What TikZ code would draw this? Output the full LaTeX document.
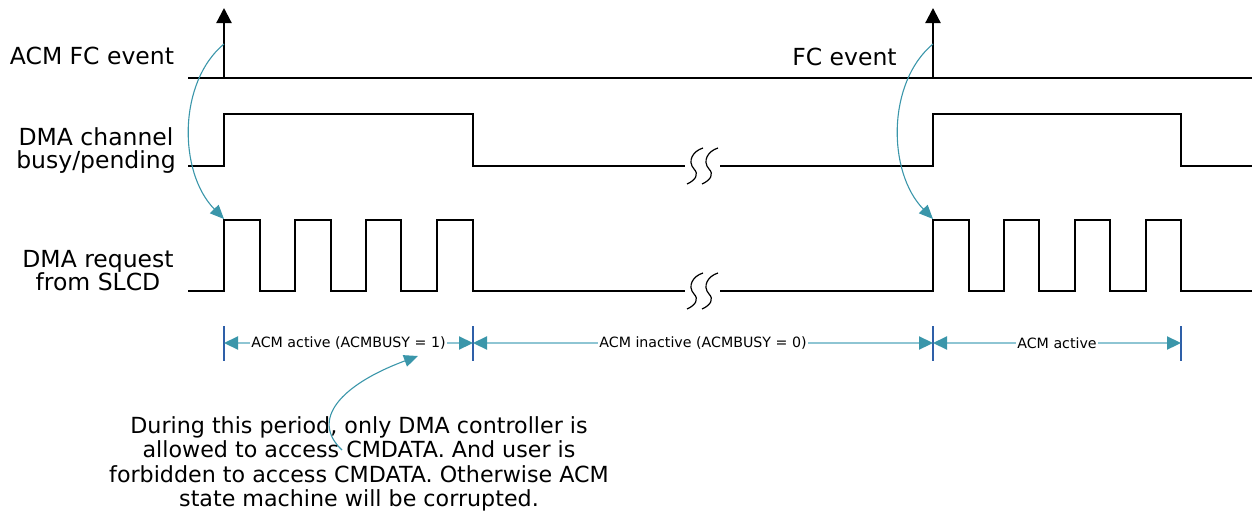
\documentclass[tikz,border=0pt]{standalone}
\usepackage{fontspec}
\setmainfont{DejaVu Sans}
\usetikzlibrary{arrows.meta}
\definecolor{tealdk}{HTML}{3A96AA}
\definecolor{teallt}{HTML}{8EC5D3}
\definecolor{tickblue}{HTML}{2E5FA8}
\begin{document}
\begin{tikzpicture}[x=1pt,y=-1pt,
  sig/.style={line width=2.2pt, black, line join=miter},
  evarrow/.style={line width=2.2pt, black, -{Triangle[length=15pt,width=15pt]}},
  lbl/.style={font=\fontsize{23.5}{23.5}\selectfont, align=center, inner sep=0pt},
  note/.style={font=\fontsize{22.2}{24.5}\selectfont, align=center, inner sep=0pt},
  ticks/.style={line width=2pt, tickblue},
  dim/.style={line width=2.2pt, teallt,
     {Triangle[length=14pt,width=13pt,color=tealdk]}-{Triangle[length=14pt,width=13pt,color=tealdk]}},
  dimlbl/.style={font=\fontsize{14.2}{15}\selectfont, fill=white, inner sep=1pt, text=black},
  curve/.style={line width=1.1pt, tealdk, -{Triangle[length=14pt,width=12pt]}},
  squig/.style={line width=1.2pt, black}
]
\useasboundingbox (0,0) rectangle (1252,514);

% labels
\node[lbl, anchor=base] (lacm) at (92,64) {ACM FC event};
\node[lbl, anchor=north] (lbusy) at (96,127) {DMA channel\\busy/pending};
\node[lbl, anchor=north] (lreq) at (98,250) {DMA request\\from SLCD};
\node[lbl, anchor=base] (lfc) at (844.5,65) {FC event};

% row 1: FC event
\draw[sig] (188,78) -- (1252,78);
\coordinate (ev1) at (224,78);
\coordinate (ev2) at (933,78);
\coordinate (ev1t) at (224,8);
\coordinate (ev2t) at (933,8);
\draw[evarrow] (ev1) -- (ev1t);
\draw[evarrow] (ev2) -- (ev2t);

% row 2: DMA channel busy
\draw[sig] (188,166) -- (224,166) -- (224,114) -- (473,114) -- (473,166) -- (685,166);
\draw[sig] (720,166) -- (933,166) -- (933,114) -- (1181,114) -- (1181,166) -- (1252,166);

% row 3: DMA request
\draw[sig] (188,291) -- (224,291) -- (224,220) -- (260,220) -- (260,291)
  -- (295,291) -- (295,220) -- (331,220) -- (331,291)
  -- (366,291) -- (366,220) -- (401,220) -- (401,291)
  -- (437,291) -- (437,220) -- (473,220) -- (473,291) -- (685,291);
\draw[sig] (720,291) -- (933,291) -- (933,220) -- (969,220) -- (969,291)
  -- (1004,291) -- (1004,220) -- (1039,220) -- (1039,291)
  -- (1075,291) -- (1075,220) -- (1110,220) -- (1110,291)
  -- (1146,291) -- (1146,220) -- (1181,220) -- (1181,291) -- (1252,291);

% breaks
\foreach \cy in {166,291}{
  \foreach \cx in {695,710}{
    \draw[squig] (\cx+8,\cy-18) .. controls (\cx-2,\cy-15) and (\cx-8,\cy-5) .. (\cx-1,\cy+3)
       .. controls (\cx+4,\cy+8) and (\cx+1,\cy+14) .. (\cx-8,\cy+18);
  }
}

% dimension ticks
\foreach \x in {224,473,933,1181}{
  \draw[ticks] (\x,326) -- (\x,361);
}
\coordinate (d1) at (224,343);
\coordinate (d2) at (473,343);
\coordinate (d3) at (933,343);
\coordinate (d4) at (1181,343);
\draw[dim] (d1) -- node[dimlbl] (a1) {ACM active (ACMBUSY = 1)} (d2);
\draw[dim] (d2) -- node[dimlbl] (a2) {ACM inactive (ACMBUSY = 0)} (d3);
\draw[dim] (d3) -- node[dimlbl] (a3) {ACM active} (d4);

% note
\node[note, anchor=north] (nt) at (359,416) {During this period, only DMA controller is\\allowed to access CMDATA. And user is\\forbidden to access CMDATA. Otherwise ACM\\state machine will be corrupted.};

% curved arrows
\coordinate (c1s) at (224,44);
\coordinate (c1e) at (224,219);
\coordinate (c2s) at (933,44);
\coordinate (c2e) at (933,219);
\coordinate (c3s) at (342,450);
\coordinate (c3e) at (418,356);
\draw[curve] (c1s) .. controls (178,82) and (178,172) .. (c1e);
\draw[curve] (c2s) .. controls (887,82) and (887,172) .. (c2e);
\draw[curve] (c3s) .. controls (310,420) and (340,385) .. (c3e);
\end{tikzpicture}
\end{document}
